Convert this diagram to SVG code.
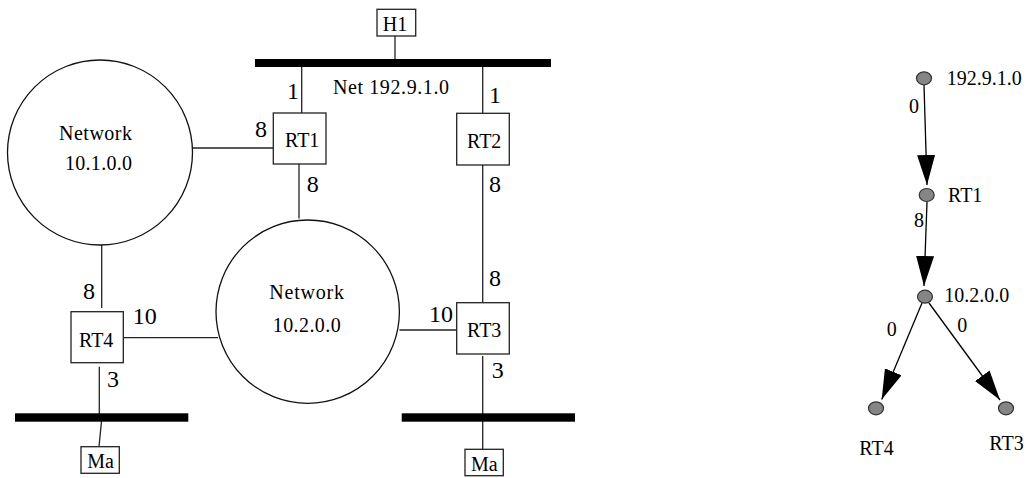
<svg xmlns="http://www.w3.org/2000/svg" width="1027" height="478" viewBox="0 0 1027 478" font-family="Liberation Serif, DejaVu Serif, serif">
<style>
text{font-family:'Liberation Serif','DejaVu Serif',serif;fill:#000}
.lbl{font-size:20px}
.cost{font-size:24px}
.box{fill:#fff;stroke:#222;stroke-width:1.3}
.net{fill:#fff;stroke:#111;stroke-width:1.3}
.ln{stroke:#222;stroke-width:1.3;fill:none}
.bus{fill:#000}
.gn{fill:#858585;stroke:#333;stroke-width:1.2}
.ed{stroke:#000;stroke-width:1.3;fill:none;marker-end:url(#ah)}
</style>
<defs>
<marker id="ah" markerUnits="userSpaceOnUse" markerWidth="30" markerHeight="18" refX="30" refY="9" orient="auto">
<path d="M0,0 L30,9 L0,18 z" fill="#000"/>
</marker>
</defs>
<g id="connectors">
<line class="ln" x1="395" y1="36" x2="395" y2="60"/>
<line class="ln" x1="301.7" y1="66" x2="301.7" y2="113"/>
<line class="ln" x1="482.7" y1="66" x2="482.7" y2="113"/>
<line class="ln" x1="192.5" y1="148" x2="273.3" y2="148"/>
<line class="ln" x1="299" y1="164" x2="299" y2="218.5"/>
<line class="ln" x1="482.7" y1="165" x2="482.7" y2="302.7"/>
<line class="ln" x1="101.7" y1="243" x2="101.7" y2="308"/>
<line class="ln" x1="123" y1="337.7" x2="218" y2="337.7"/>
<line class="ln" x1="399.5" y1="330" x2="456.7" y2="330"/>
<line class="ln" x1="99.3" y1="366.7" x2="99.3" y2="414"/>
<line class="ln" x1="101.5" y1="421" x2="99" y2="446.7"/>
<line class="ln" x1="482.7" y1="356" x2="482.7" y2="449.3"/>
<path class="ed" d="M924,85 L927,185"/>
<path class="ed" d="M927,202 L924,286"/>
<path class="ed" d="M922,303 L881.7,399.5"/>
<path class="ed" d="M929,303 L1000,400"/>
</g>
<g id="bus-top"><rect class="bus" x="255" y="59" width="296" height="8"/></g>
<g id="bus-left"><rect class="bus" x="15" y="413.3" width="173.3" height="8.4"/></g>
<g id="bus-right"><rect class="bus" x="401.7" y="413.3" width="173.3" height="8.4"/></g>
<g id="H1"><rect class="box" x="377" y="9.3" width="38.7" height="26.7"/><text class="lbl" x="382.7" y="31">H1</text></g>
<g id="RT1"><rect class="box" x="273.3" y="113" width="52.7" height="51"/><text class="lbl" x="285" y="146.7">RT1</text></g>
<g id="RT2"><rect class="box" x="456.7" y="113.3" width="52.6" height="51.7"/><text class="lbl" x="467" y="147.7">RT2</text></g>
<g id="RT3"><rect class="box" x="456.7" y="302.7" width="52.6" height="51.3"/><text class="lbl" x="467" y="337">RT3</text></g>
<g id="RT4"><rect class="box" x="71" y="311.7" width="52.3" height="51"/><text class="lbl" x="79" y="346.7">RT4</text></g>
<g id="Ma-left"><rect class="box" x="81" y="446.7" width="38.3" height="26.6"/><text class="lbl" x="87.3" y="468.3">Ma</text></g>
<g id="Ma-right"><rect class="box" x="465" y="449.3" width="38.3" height="26.4"/><text class="lbl" x="471" y="470.7">Ma</text></g>
<g id="net10-1"><circle class="net" cx="100" cy="152.5" r="92.5"/><text class="lbl" x="59" y="140" textLength="73">Network</text><text class="lbl" x="65" y="170" textLength="67">10.1.0.0</text></g>
<g id="net10-2"><circle class="net" cx="307.7" cy="311.7" r="91.7"/><text class="lbl" x="269.3" y="299.3" textLength="74.7">Network</text><text class="lbl" x="272.7" y="331.7" textLength="68">10.2.0.0</text></g>
<g id="net-label"><text class="lbl" x="333" y="94" textLength="116">Net 192.9.1.0</text></g>
<g id="costs">
<text class="cost" x="287" y="99">1</text>
<text class="cost" x="489" y="102.7">1</text>
<text class="cost" x="255" y="136.7">8</text>
<text class="cost" x="306.7" y="191.7">8</text>
<text class="cost" x="489" y="192">8</text>
<text class="cost" x="489" y="286">8</text>
<text class="cost" x="83" y="299">8</text>
<text class="cost" x="132.7" y="324">10</text>
<text class="cost" x="429" y="321.7">10</text>
<text class="cost" x="107" y="386.7">3</text>
<text class="cost" x="491.7" y="378">3</text>
</g>
<g id="g-192"><ellipse class="gn" cx="924" cy="78.3" rx="7.5" ry="6.5"/><text class="lbl" x="946.7" y="85">192.9.1.0</text></g>
<g id="g-RT1"><ellipse class="gn" cx="926.7" cy="195" rx="7.5" ry="6.5"/><text class="lbl" x="948" y="202">RT1</text></g>
<g id="g-10-2"><ellipse class="gn" cx="925" cy="296.7" rx="7.5" ry="6.5"/><text class="lbl" x="944.3" y="301.7">10.2.0.0</text></g>
<g id="g-RT4"><ellipse class="gn" cx="876" cy="408.3" rx="7.5" ry="6.5"/><text class="lbl" x="859.3" y="455">RT4</text></g>
<g id="g-RT3"><ellipse class="gn" cx="1006" cy="408.3" rx="7.5" ry="6.5"/><text class="lbl" x="989.3" y="450">RT3</text></g>
<g id="g-costs">
<text class="lbl" x="909" y="113.3">0</text>
<text class="lbl" x="914" y="226.7">8</text>
<text class="lbl" x="886.7" y="336">0</text>
<text class="lbl" x="957.3" y="331.7">0</text>
</g>
</svg>
